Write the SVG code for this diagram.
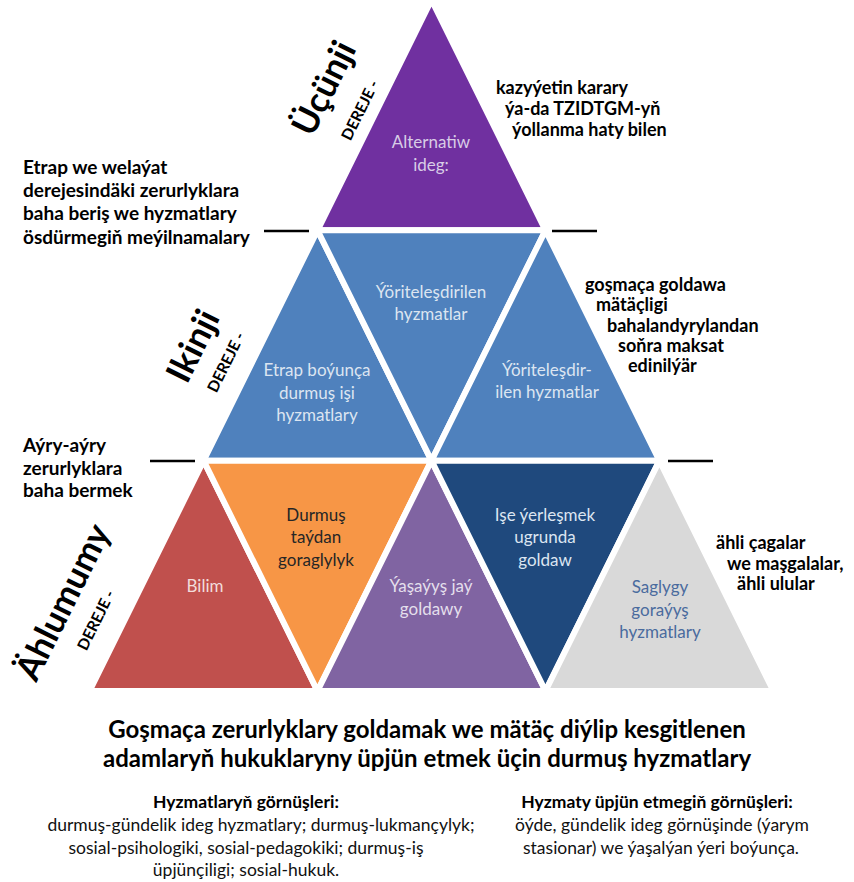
<svg xmlns="http://www.w3.org/2000/svg" width="854" height="882" viewBox="0 0 854 882">
<style>
text{font-family:Lato,"Noto Sans","Liberation Sans",sans-serif}
.tri{stroke:#fff;stroke-width:6;stroke-linejoin:miter}
.in{font-size:17px;text-anchor:middle}
.lab{font-size:19px;font-weight:bold;fill:#000}
.labs{font-size:18px;font-weight:bold;fill:#000}
.lvl{font-weight:bold;fill:#000;text-anchor:middle}
.sep{stroke:#000;stroke-width:2.5}
.sub{font-size:17.5px;text-anchor:middle;fill:#111}
.hd{font-size:17.5px;font-weight:bold;text-anchor:middle;fill:#000}
</style>
<rect width="854" height="882" fill="#fff"/>
<g id="connectors">
<line class="sep" x1="264" y1="231" x2="309" y2="231"/>
<line class="sep" x1="552" y1="231" x2="597" y2="231"/>
<line class="sep" x1="150" y1="461" x2="195" y2="461"/>
<line class="sep" x1="668" y1="461" x2="713" y2="461"/>
</g>
<g id="top">
<polygon class="tri" fill="#7030A0" points="431.5,0 317.5,230.3 545.5,230.3"/>
<text class="in" fill="#D8CCE6" x="431" y="148">Alternatiw</text>
<text class="in" fill="#D8CCE6" x="431" y="171">ideg:</text>
</g>
<g id="mid-left">
<polygon class="tri" fill="#4F81BD" points="317.5,230.3 203.6,460.7 431.5,460.7"/>
<text class="in" fill="#DCE5F1" x="317" y="376">Etrap boýunça</text>
<text class="in" fill="#DCE5F1" x="317" y="399">durmuş işi</text>
<text class="in" fill="#DCE5F1" x="317" y="421">hyzmatlary</text>
</g>
<g id="mid-center">
<polygon class="tri" fill="#4F81BD" points="317.5,230.3 545.5,230.3 431.5,460.7"/>
<text class="in" fill="#DCE5F1" x="431" y="298">Ýöriteleşdirilen</text>
<text class="in" fill="#DCE5F1" x="431" y="320">hyzmatlar</text>
</g>
<g id="mid-right">
<polygon class="tri" fill="#4F81BD" points="545.5,230.3 431.5,460.7 659.4,460.7"/>
<text class="in" fill="#DCE5F1" x="547" y="376">Ýöriteleşdir-</text>
<text class="in" fill="#DCE5F1" x="547" y="398">ilen hyzmatlar</text>
</g>
<g id="bilim">
<polygon class="tri" fill="#C0504D" points="203.6,460.7 89.6,691 317.5,691"/>
<text class="in" fill="#F2DCDB" x="205" y="592">Bilim</text>
</g>
<g id="durmus">
<polygon class="tri" fill="#F79646" points="203.6,460.7 431.5,460.7 317.5,691"/>
<text class="in" fill="#262626" x="316" y="521">Durmuş</text>
<text class="in" fill="#262626" x="316" y="543">taýdan</text>
<text class="in" fill="#262626" x="316" y="566">goraglylyk</text>
</g>
<g id="yasayys">
<polygon class="tri" fill="#8064A2" points="431.5,460.7 317.5,691 545.5,691"/>
<text class="in" fill="#E4DFEC" x="431" y="592">Ýaşaýyş jaý</text>
<text class="in" fill="#E4DFEC" x="431" y="615">goldawy</text>
</g>
<g id="ise">
<polygon class="tri" fill="#1F497D" points="431.5,460.7 659.4,460.7 545.5,691"/>
<text class="in" fill="#DCE5F1" x="545" y="521">Işe ýerleşmek</text>
<text class="in" fill="#DCE5F1" x="545" y="543">ugrunda</text>
<text class="in" fill="#DCE5F1" x="545" y="566">goldaw</text>
</g>
<g id="saglygy">
<polygon class="tri" fill="#D9D9D9" points="659.4,460.7 545.5,691 773.4,691"/>
<text class="in" fill="#4A6B9E" x="660" y="593">Saglygy</text>
<text class="in" fill="#4A6B9E" x="660" y="616">goraýyş</text>
<text class="in" fill="#4A6B9E" x="660" y="638">hyzmatlary</text>
</g>
<g id="level3">
<text class="lvl" font-size="35" transform="translate(324,88) rotate(-63.6)" dy="12">Üçünji</text>
<text class="lvl" font-size="15.5" transform="translate(360,110) rotate(-63.6)" dy="5.5">DEREJE -</text>
</g>
<g id="level2">
<text class="lvl" font-size="35" transform="translate(193,346) rotate(-63.6)" dy="12">Ikinji</text>
<text class="lvl" font-size="15.5" transform="translate(226,362) rotate(-63.6)" dy="5.5">DEREJE -</text>
</g>
<g id="level1">
<text class="lvl" font-size="35" transform="translate(63,602) rotate(-63.6)" dy="12">Ählumumy</text>
<text class="lvl" font-size="15.5" transform="translate(96,620) rotate(-63.6)" dy="5.5">DEREJE -</text>
</g>
<g id="label-top-left">
<text class="lab" x="23" y="174">Etrap we welaýat</text>
<text class="lab" x="23" y="197">derejesindäki zerurlyklara</text>
<text class="lab" x="23" y="220">baha beriş we hyzmatlary</text>
<text class="lab" x="23" y="244">ösdürmegiň meýilnamalary</text>
</g>
<g id="label-bottom-left">
<text class="lab" x="23" y="452">Aýry-aýry</text>
<text class="lab" x="23" y="475">zerurlyklara</text>
<text class="lab" x="23" y="497">baha bermek</text>
</g>
<g id="label-top-right">
<text class="labs" x="496" y="94">kazyýetin karary</text>
<text class="labs" x="505" y="115">ýa-da TZIDTGM-yň</text>
<text class="labs" x="512" y="136">ýollanma haty bilen</text>
</g>
<g id="label-mid-right">
<text class="labs" x="585" y="291">goşmaça goldawa</text>
<text class="labs" x="596" y="311">mätäçligi</text>
<text class="labs" x="607" y="332">bahalandyrylandan</text>
<text class="labs" x="618" y="352">soňra maksat</text>
<text class="labs" x="628" y="372">edinilýär</text>
</g>
<g id="label-bottom-right">
<text class="labs" x="716" y="549">ähli çagalar</text>
<text class="labs" x="727" y="570">we maşgalalar,</text>
<text class="labs" x="737" y="590">ähli ulular</text>
</g>
<g id="title">
<text font-size="24" font-weight="bold" text-anchor="middle" x="427" y="738" fill="#000">Goşmaça zerurlyklary goldamak we mätäç diýlip kesgitlenen</text>
<text font-size="24" font-weight="bold" text-anchor="middle" x="427" y="767" fill="#000">adamlaryň hukuklaryny üpjün etmek üçin durmuş hyzmatlary</text>
</g>
<g id="types">
<text class="hd" x="246" y="808">Hyzmatlaryň görnüşleri:</text>
<text class="sub" x="261" y="831">durmuş-gündelik ideg hyzmatlary; durmuş-lukmançylyk;</text>
<text class="sub" x="246" y="854">sosial-psihologiki, sosial-pedagokiki; durmuş-iş</text>
<text class="sub" x="246" y="876">üpjünçiligi; sosial-hukuk.</text>
</g>
<g id="provision">
<text class="hd" x="657" y="808">Hyzmaty üpjün etmegiň görnüşleri:</text>
<text class="sub" x="662" y="831">öýde, gündelik ideg görnüşinde (ýarym</text>
<text class="sub" x="661" y="854">stasionar) we ýaşalýan ýeri boýunça.</text>
</g>
</svg>
